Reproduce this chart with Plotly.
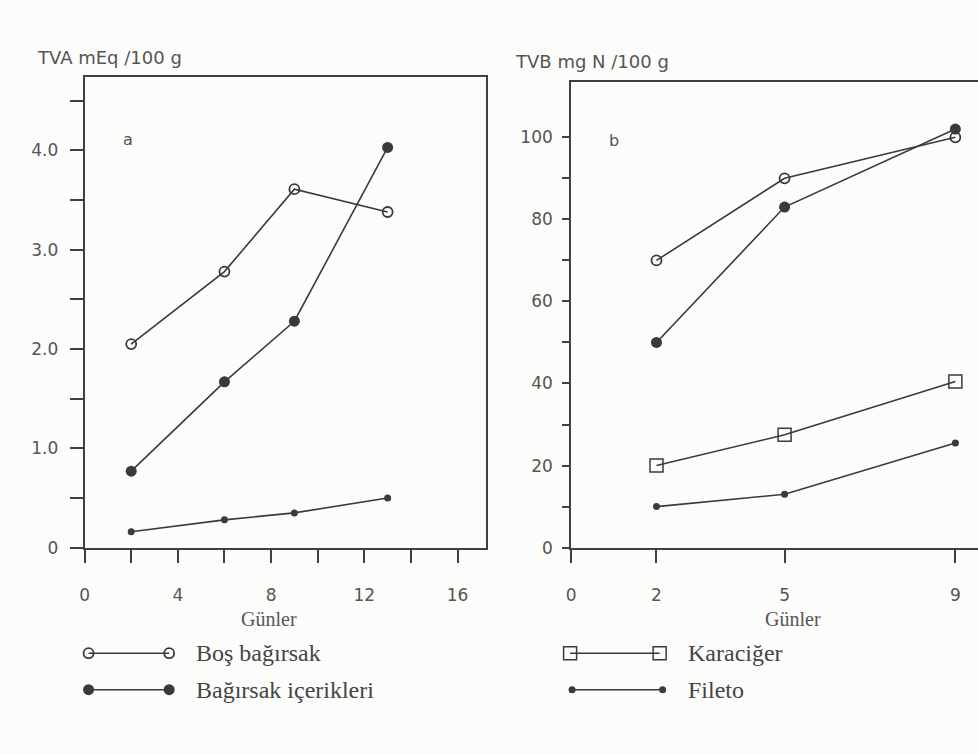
import plotly.graph_objects as go

# ---------------- data ----------------
days_a = [2, 6, 9, 13]
bos_a = [2.05, 2.78, 3.61, 3.38]          # Boş bağırsak (TVA)
icerik_a = [0.77, 1.67, 2.28, 4.03]       # Bağırsak içerikleri (TVA)
fileto_a = [0.16, 0.28, 0.35, 0.50]       # Fileto (TVA)

days_b = [2, 5, 9]
bos_b = [70, 90, 100]                     # Boş bağırsak (TVB)
icerik_b = [50, 83, 102]                  # Bağırsak içerikleri (TVB)
karaciger_b = [20, 27.5, 40.5]            # Karaciğer (TVB)
fileto_b = [10, 13, 25.5]                 # Fileto (TVB)

xticks_a = [0, 2, 4, 6, 8, 10, 12, 14, 16]
xticklabels_a = ["0", "", "4", "", "8", "", "12", "", "16"]
yticks_a = [0, 0.5, 1, 1.5, 2, 2.5, 3, 3.5, 4, 4.5]
yticklabels_a = ["0", "", "1.0", "", "2.0", "", "3.0", "", "4.0", ""]
xticks_b = [0, 2, 5, 9]
xticklabels_b = ["0", "2", "5", "9"]
yticks_b = [0, 10, 20, 30, 40, 50, 60, 70, 80, 90, 100]
yticklabels_b = ["0", "", "20", "", "40", "", "60", "", "80", "", "100"]

legend_names = ["Boş bağırsak", "Bağırsak içerikleri", "Karaciğer", "Fileto"]

# ---------------- styles ----------------
INK = "#3a3a3a"
TXT = "#555555"
W, H = 978, 754

def px(x):
    return x / W

def py(y):
    return 1 - y / H

styles = {
    "Boş bağırsak": dict(symbol="circle-open", size=10, color=INK, line=dict(width=1.8, color=INK)),
    "Bağırsak içerikleri": dict(symbol="circle", size=11, color=INK),
    "Karaciğer": dict(symbol="square-open", size=13, color=INK, line=dict(width=1.5, color=INK)),
    "Fileto": dict(symbol="circle", size=7, color=INK),
}
line_style = dict(color=INK, width=1.6)

fig = go.Figure()

# panel a
for name, ys in [("Boş bağırsak", bos_a), ("Bağırsak içerikleri", icerik_a), ("Fileto", fileto_a)]:
    fig.add_trace(go.Scatter(x=days_a, y=ys, mode="lines+markers", name=name,
                             line=line_style, marker=styles[name], showlegend=False,
                             xaxis="x", yaxis="y"))
# panel b
for name, ys in [("Boş bağırsak", bos_b), ("Bağırsak içerikleri", icerik_b),
                 ("Karaciğer", karaciger_b), ("Fileto", fileto_b)]:
    fig.add_trace(go.Scatter(x=days_b, y=ys, mode="lines+markers", name=name,
                             line=line_style, marker=styles[name], showlegend=False,
                             xaxis="x2", yaxis="y2"))

# custom legend keys (line with a marker at each end), drawn on a hidden pixel axis
key_layout = {
    "Boş bağırsak": (84, 165, 662),
    "Bağırsak içerikleri": (84, 165, 699),
    "Karaciğer": (568, 658, 662),
    "Fileto": (570, 661, 699),
}
for name in legend_names:
    x0, x1, yk = key_layout[name]
    fig.add_trace(go.Scatter(x=[x0, x1], y=[yk, yk], mode="lines+markers",
                             line=dict(color=INK, width=1.4), marker=styles[name],
                             showlegend=False, hoverinfo="skip", xaxis="x3", yaxis="y3"))
    fig.add_annotation(x=px(190 if x0 < 400 else 684), y=py(yk), xref="paper", yref="paper",
                       text=name, showarrow=False, xanchor="left", yanchor="middle",
                       font=dict(family="Liberation Serif", size=24, color="#444444"))

axis_common = dict(showline=True, linecolor="#404040", linewidth=1.8, showgrid=False,
                   zeroline=False, ticks="outside", tickcolor="#404040", tickwidth=1.5,
                   tickfont=dict(family="DejaVu Sans", size=17, color=TXT))

fig.update_layout(
    width=W, height=H,
    margin=dict(l=0, r=0, t=0, b=0),
    paper_bgcolor="#fcfcfb",
    plot_bgcolor="rgba(0,0,0,0)",
    showlegend=False,
    xaxis=dict(domain=[px(80), px(483)], range=[0, 17.2], tickmode="array",
               tickvals=xticks_a, ticktext=xticklabels_a, ticklen=13, mirror=True,
               ticklabelstandoff=18, anchor="y", **axis_common),
    yaxis=dict(domain=[py(555), py(78)], range=[0, 4.74], tickmode="array",
               tickvals=yticks_a, ticktext=yticklabels_a, ticklen=13, mirror=True,
               ticklabelstandoff=8, anchor="x", **axis_common),
    xaxis2=dict(domain=[px(569), 1.0], range=[0, 9.53], tickmode="array",
                tickvals=xticks_b, ticktext=xticklabels_b, ticklen=13, mirror=True,
                ticklabelstandoff=18, anchor="y2", **axis_common),
    yaxis2=dict(domain=[py(555), py(83)], range=[0, 113.5], tickmode="array",
                tickvals=yticks_b, ticktext=yticklabels_b, ticklen=7, mirror=False,
                ticklabelstandoff=6, anchor="x2", **axis_common),
    xaxis3=dict(domain=[0, 1], range=[0, W], visible=False, fixedrange=True, anchor="y3"),
    yaxis3=dict(domain=[py(720), py(640)], range=[720, 640], visible=False, fixedrange=True,
                anchor="x3"),
)

# axis titles and panel letters
fig.add_annotation(x=px(30), y=py(58), xref="paper", yref="paper", text="TVA mEq /100 g",
                   showarrow=False, xanchor="left", yanchor="middle",
                   font=dict(family="DejaVu Sans", size=18, color=TXT))
fig.add_annotation(x=px(511), y=py(62), xref="paper", yref="paper", text="TVB mg N /100 g",
                   showarrow=False, xanchor="left", yanchor="middle",
                   font=dict(family="DejaVu Sans", size=18, color=TXT))
fig.add_annotation(x=px(265), y=py(627), xref="paper", yref="paper", text="Günler",
                   showarrow=False, xanchor="center", yanchor="middle",
                   font=dict(family="Liberation Serif", size=20, color=TXT))
fig.add_annotation(x=px(792), y=py(627), xref="paper", yref="paper", text="Günler",
                   showarrow=False, xanchor="center", yanchor="middle",
                   font=dict(family="Liberation Serif", size=20, color=TXT))
fig.add_annotation(x=px(117), y=py(130), xref="paper", yref="paper", text="a",
                   showarrow=False, font=dict(family="DejaVu Sans", size=16, color=TXT))
fig.add_annotation(x=px(612), y=py(131), xref="paper", yref="paper", text="b",
                   showarrow=False, font=dict(family="DejaVu Sans", size=16, color=TXT))

fig.write_html("out.html")
